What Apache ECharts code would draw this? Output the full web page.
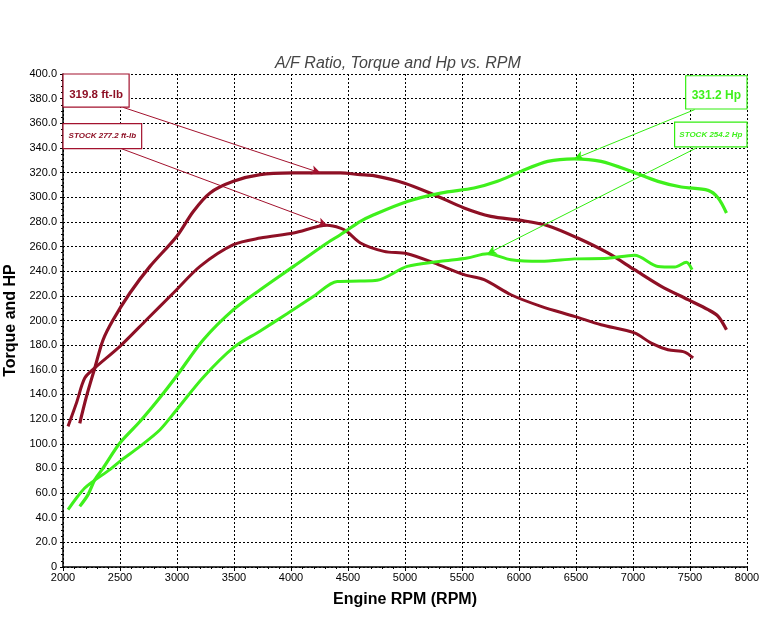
<!DOCTYPE html>
<html>
<head>
<meta charset="utf-8">
<script src="https://cdn.jsdelivr.net/npm/echarts@6/dist/echarts.min.js"></script>
<style>
html,body{margin:0;padding:0;background:#fff;}
#chart{width:777px;height:627px;}
</style>
</head>
<body>
<div id="chart"></div>
<script>
// ---- data ----
const modTqRpm = [2147,2206,2279,2352,2440,2587,2763,2997,3143,3290,3495,3730,4023,4258,4433,4609,4726,4990,5254,5518,5753,6017,6252,6515,6779,7013,7248,7483,7659,7747,7820];
const modTqVal = [116.6,138.4,161.5,184.4,200.6,222.3,243.9,268.2,288.5,303.5,312.9,318.3,319.7,319.8,319.7,318.3,317.5,311.6,302.1,291.3,284.5,281.2,276.9,266.9,254.8,241.2,227.7,216.9,208.8,203.4,192.5];

const stockTqRpm = [2044,2118,2191,2279,2499,2733,2968,3202,3495,3730,4023,4317,4433,4493,4609,4815,5020,5254,5518,5694,5929,6193,6486,6720,7013,7160,7307,7453,7527];
const stockTqVal = [114.1,133.1,153.3,161.5,179.0,200.6,222.3,243.9,261.5,266.9,271.0,277.2,275.0,272.0,262.9,256.1,254.2,246.7,237.2,233.1,220.9,211.5,203.4,196.6,189.9,181.7,176.3,174.4,169.6];

const modHpRpm = [2147,2220,2279,2352,2499,2675,2835,2997,3231,3495,3730,4023,4317,4433,4609,4726,5020,5313,5606,5811,6017,6252,6486,6720,6984,7219,7424,7659,7747,7820];
const modHpVal = [49.2,58.7,70.8,80.3,100.6,118.1,135.7,155.0,184.4,208.8,225.0,243.9,262.9,269.6,280.4,285.8,296.6,303.4,307.5,312.9,321.0,329.1,331.2,329.1,321.0,312.9,308.3,305.6,299.4,287.2];

const stockHpRpm = [2044,2118,2191,2264,2411,2499,2675,2851,2997,3231,3495,3730,3965,4199,4405,4609,4756,5020,5313,5547,5723,5929,6193,6486,6779,7013,7219,7366,7468,7518];
const stockHpVal = [46.5,56.0,64.1,69.5,79.0,85.7,97.9,111.4,127.6,154.0,178.0,191.5,205.5,219.6,231.7,232.0,232.6,243.9,248.0,250.7,254.2,249.3,248.0,250.0,250.5,253.0,243.9,243.4,247.2,241.2];

const peakLabels = ['319.8 ft-lb', 'STOCK 277.2 ft-lb', '331.2 Hp', 'STOCK 254.2 Hp'];
const peakRpm = [4258, 4317, 6486, 5723];
const peakVal = [319.8, 277.2, 331.2, 254.2];

const titleText = 'A/F Ratio, Torque and Hp vs. RPM';
const xName = 'Engine RPM (RPM)';
const yName = 'Torque and HP';

// ---- build ----
const RED = '#8e1025';
const RED_THIN = '#a3122e';
const GREEN = '#3ff01c';
const GREEN_THIN = '#33ee11';
const FONT = 'Liberation Sans, Arial, sans-serif';

function pairs(xs, ys){ return xs.map((x,i)=>[x, ys[i]]); }

function annot(idx, box, start, color, lineColor, textStyle){
  return {
    markArea: {
      silent: true,
      itemStyle: {color: '#ffffff', borderColor: lineColor, borderWidth: 1.2},
      label: Object.assign({show: true, position: 'inside', color: color, fontFamily: FONT}, textStyle),
      data: [[{name: peakLabels[idx], coord: [box[0], box[1]]}, {coord: [box[2], box[3]]}]]
    },
    markLine: {
      silent: true,
      symbol: ['none', 'arrow'],
      symbolSize: [7, 9],
      label: {show: false},
      lineStyle: {color: lineColor, width: 1, type: 'solid'},
      emphasis: {disabled: true},
      data: [[{coord: start}, {coord: [peakRpm[idx], peakVal[idx]]}]]
    }
  };
}

const series = [
  Object.assign({
    type: 'line', name: 'Torque', data: pairs(modTqRpm, modTqVal),
    showSymbol: false, smooth: 0.3, lineStyle: {color: RED, width: 3.2}, itemStyle: {color: RED}, z: 3
  }, annot(0, [2000, 400, 2580, 373.2], [2528, 372.9], RED, RED_THIN, {fontSize: 11.5, fontWeight: 'bold', offset: [0, 4]})),
  Object.assign({
    type: 'line', name: 'Stock Torque', data: pairs(stockTqRpm, stockTqVal),
    showSymbol: false, smooth: 0.3, lineStyle: {color: RED, width: 3}, itemStyle: {color: RED}, z: 3
  }, annot(1, [2000, 359.7, 2690, 339.4], [2513, 339.4], RED, RED_THIN, {fontSize: 8, fontWeight: 'bold', fontStyle: 'italic'})),
  Object.assign({
    type: 'line', name: 'HP', data: pairs(modHpRpm, modHpVal),
    showSymbol: false, smooth: 0.3, lineStyle: {color: GREEN, width: 3.2}, itemStyle: {color: GREEN}, z: 3
  }, annot(2, [7462, 398.6, 8000, 371.6], [7541, 371.1], GREEN, GREEN_THIN, {fontSize: 12, fontWeight: 'bold', offset: [0, 3]})),
  Object.assign({
    type: 'line', name: 'Stock HP', data: pairs(stockHpRpm, stockHpVal),
    showSymbol: false, smooth: 0.3, lineStyle: {color: GREEN, width: 3}, itemStyle: {color: GREEN}, z: 3
  }, annot(3, [7365, 361, 8000, 340.8], [7556, 340], GREEN, GREEN_THIN, {fontSize: 8, fontWeight: 'bold', fontStyle: 'italic'}))
];

const chart = echarts.init(document.getElementById('chart'), null, {renderer: 'canvas'});
chart.setOption({
  animation: false,
  backgroundColor: '#ffffff',
  title: {
    text: titleText, left: 270, top: 51,
    textStyle: {fontFamily: FONT, fontSize: 16, fontStyle: 'italic', fontWeight: 'normal', color: '#454545'}
  },
  grid: {left: 63, right: 30, top: 74, bottom: 60, containLabel: false, outerBoundsMode: 'none'},
  xAxis: {
    type: 'value', min: 2000, max: 8000, interval: 500,
    name: xName, nameLocation: 'middle', nameGap: 25,
    nameTextStyle: {fontFamily: FONT, fontSize: 16, fontWeight: 'bold', color: '#000'},
    axisLine: {show: true, onZero: false, lineStyle: {color: '#000', width: 1.5}},
    axisTick: {show: true, length: 4, lineStyle: {color: '#000'}},
    minorTick: {show: true, splitNumber: 5, length: 2, lineStyle: {color: '#000'}},
    axisLabel: {fontFamily: FONT, fontSize: 11, color: '#000', margin: 5, formatter: v => String(v)},
    splitLine: {show: true, lineStyle: {color: '#000', width: 1, type: [2, 2]}}
  },
  yAxis: {
    type: 'value', min: 0, max: 400, interval: 20,
    name: yName, nameLocation: 'middle', nameGap: 39,
    nameTextStyle: {fontFamily: FONT, fontSize: 16, fontWeight: 'bold', color: '#000'},
    axisLine: {show: true, onZero: false, lineStyle: {color: '#000', width: 1.5}},
    axisTick: {show: true, length: 3, lineStyle: {color: '#000'}},
    minorTick: {show: true, splitNumber: 4, length: 2, lineStyle: {color: '#000'}},
    axisLabel: {fontFamily: FONT, fontSize: 11, color: '#000', margin: 6,
      formatter: v => v === 0 ? '0' : v.toFixed(1)},
    splitLine: {show: true, lineStyle: {color: '#000', width: 1, type: [2, 2]}}
  },
  series: series
});
</script>
</body>
</html>
